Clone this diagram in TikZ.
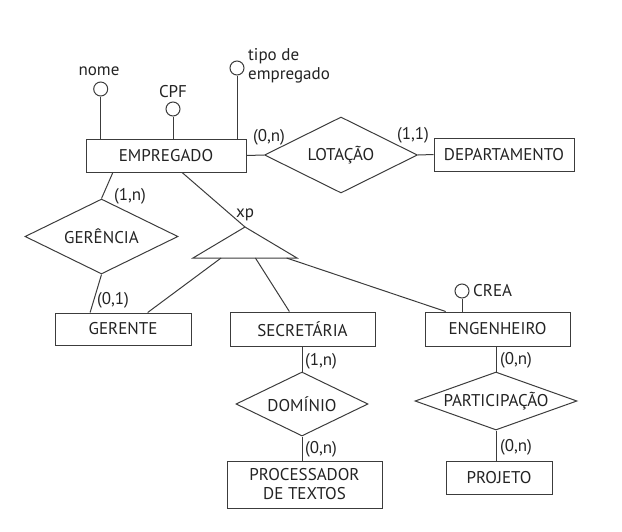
\documentclass[tikz,border=0pt]{standalone}
\usepackage{fontspec}
\setmainfont{PT Sans}
\usetikzlibrary{shapes.geometric, calc}
\definecolor{traco}{RGB}{60, 60, 60}
\definecolor{texto}{RGB}{35, 35, 35}
\tikzset{
  entidade/.style={
    draw=traco, line width=1pt, minimum height=33pt, inner sep=0pt,
    font=\fontsize{17}{19}\selectfont, text=texto, align=center
  },
  relacionamento/.style={
    draw=traco, line width=1pt, diamond, aspect=2, inner sep=0pt,
    font=\fontsize{17}{19}\selectfont, text=texto
  },
  atributo/.style={draw=traco, line width=1pt, circle, minimum size=14pt, inner sep=0pt},
  rotulo/.style={font=\fontsize{17}{19}\selectfont, text=texto, inner sep=0pt},
  cardinalidade/.style={font=\fontsize{17}{19}\selectfont, text=texto, inner sep=0pt},
  linha/.style={draw=traco, line width=1pt},
}

\begin{document}
\begin{tikzpicture}[x=1pt, y=-1pt]
\useasboundingbox (0,0) rectangle (622,531);

% Entidades
\node[entidade, minimum width=160pt] (empregado) at (166,155.5) {EMPREGADO};
\node[entidade, minimum width=140pt] (departamento) at (504,154.5) {DEPARTAMENTO};
\node[entidade, minimum width=136pt, minimum height=32pt] (gerente) at (123,329) {GERENTE};
\node[entidade, minimum width=145pt, minimum height=34pt] (secretaria) at (302.5,329) {SECRETÁRIA};
\node[entidade, minimum width=145pt, minimum height=34pt] (engenheiro) at (497.5,329) {ENGENHEIRO};
\node[entidade, minimum width=155pt, minimum height=47pt] (processador) at (304.5,484.5) {PROCESSADOR\\DE TEXTOS};
\node[entidade, minimum width=106pt] (projeto) at (499,477.5) {PROJETO};

% Relacionamentos
\node[relacionamento, minimum width=153pt, minimum height=76pt] (lotacao) at (341,155) {LOTAÇÃO};
\node[relacionamento, minimum width=153pt, minimum height=75pt] (gerencia) at (101.5,236.5) {GERÊNCIA};
\node[relacionamento, minimum width=132pt, minimum height=64pt] (dominio) at (302,404) {DOMÍNIO};
\node[relacionamento, aspect=2.7, minimum width=162pt, minimum height=58pt] (participacao) at (496,401) {PARTICIPAÇÃO};

% Atributos
\node[atributo] (nome) at (100.7,89) {};
\node[rotulo] (nome rot) at (99,71) {nome};
\node[atributo] (cpf) at (173,109) {};
\node[rotulo] (cpf rot) at (173,92) {CPF};
\node[atributo] (tipo) at (237,68) {};
\node[rotulo, anchor=west, align=left] (tipo rot) at (248,66) {tipo de\\empregado};
\node[atributo] (crea) at (462,291) {};
\node[rotulo, anchor=west] (crea rot) at (473,291) {CREA};

\draw[linha] (nome.south) -- (nome.south |- empregado.north);
\draw[linha] (cpf.south) -- (cpf.south |- empregado.north);
\draw[linha] (tipo.south) -- (tipo.south |- empregado.north);
\draw[linha] (crea.south) -- (crea.south |- engenheiro.north);

% Especializacao
\coordinate (xp topo) at (245,227);
\coordinate (xp esq) at (193,258);
\coordinate (xp dir) at (297,258);
\draw[linha] (xp topo) -- (xp esq) -- (xp dir) -- cycle;
\node[rotulo] (xp rot) at (245,215) {xp};

% Ligacoes
\draw[linha] (empregado.east) -- (lotacao.west);
\draw[linha] (lotacao.east) -- (departamento.west);
\draw[linha] ($(empregado.south west)!0.17!(empregado.south east)$) -- (gerencia.north);
\draw[linha] (gerencia.south) -- ($(gerente.north west)!0.26!(gerente.north east)$);
\draw[linha] ($(empregado.south west)!0.6!(empregado.south east)$) -- (xp topo);
\draw[linha] ($(xp esq)!0.27!(xp dir)$) -- ($(gerente.north west)!0.68!(gerente.north east)$);
\draw[linha] ($(xp esq)!0.6!(xp dir)$) -- ($(secretaria.north west)!0.41!(secretaria.north east)$);
\draw[linha] ($(xp esq)!0.9!(xp dir)$) -- ($(engenheiro.north west)!0.145!(engenheiro.north east)$);
\draw[linha] (dominio.north |- secretaria.south) -- (dominio.north);
\draw[linha] (dominio.south) -- (dominio.south |- processador.north);
\draw[linha] (participacao.north |- engenheiro.south) -- (participacao.north);
\draw[linha] (participacao.south) -- (participacao.south |- projeto.north);

% Cardinalidades
\node[cardinalidade] (c lot emp) at (269,137) {(0,n)};
\node[cardinalidade] (c lot dep) at (413,135) {(1,1)};
\node[cardinalidade] (c ger emp) at (130,196) {(1,n)};
\node[cardinalidade] (c ger ger) at (113,300) {(0,1)};
\node[cardinalidade] (c dom sec) at (321,361) {(1,n)};
\node[cardinalidade] (c dom pro) at (321,449) {(0,n)};
\node[cardinalidade] (c par eng) at (516,360) {(0,n)};
\node[cardinalidade] (c par pro) at (516,447) {(0,n)};

\end{tikzpicture}
\end{document}
